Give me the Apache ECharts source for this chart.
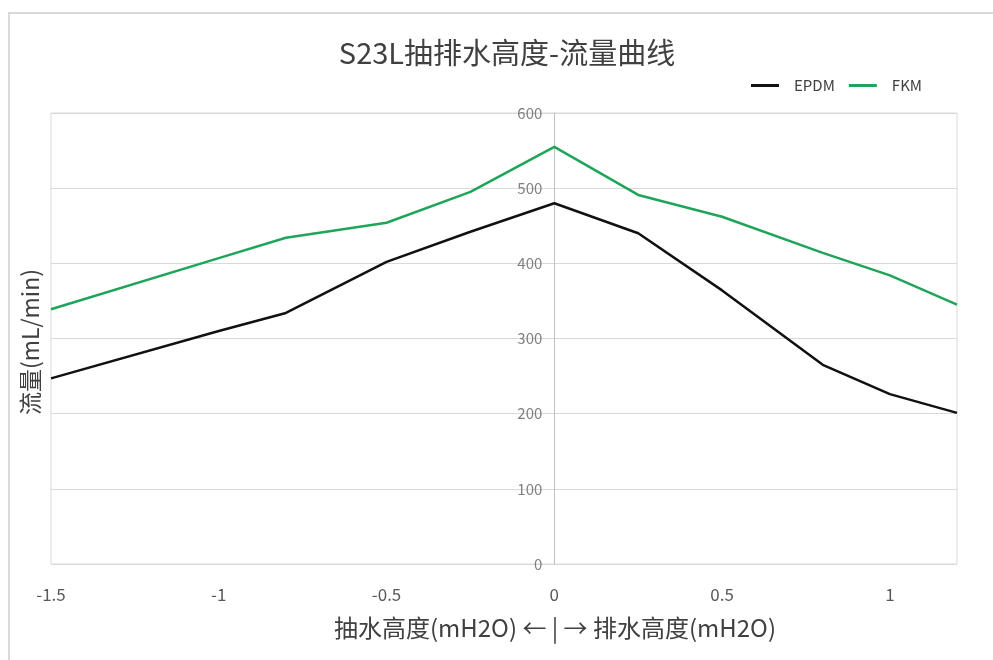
<!DOCTYPE html>
<html>
<head>
<meta charset="utf-8">
<script src="https://cdn.jsdelivr.net/npm/echarts@6/dist/echarts.min.js"></script>
<style>html,body{margin:0;padding:0;background:#fff}#c{width:993px;height:660px}</style>
</head>
<body>
<div id="c"></div>
<script>
var heights = [-1.5, -1, -0.8, -0.5, -0.25, 0, 0.25, 0.5, 0.8, 1, 1.2];
var epdm = [247, 310, 334, 402, 442, 480, 440, 364, 265, 226, 201];
var fkm = [339, 407, 434, 454, 495, 555, 491, 462, 414, 384, 345];
var xTicks = [-1.5, -1, -0.5, 0, 0.5, 1];
var titleText = 'S23L抽排水高度-流量曲线';
var xName = '抽水高度(mH2O) ← | → 排水高度(mH2O)';
var yName = '流量(mL/min)';

function pairs(xs, ys) { return xs.map(function (x, i) { return [x, ys[i]]; }); }

var FONT = 'Noto Sans CJK SC';
var GL = 51, GR = 36, XMIN = -1.5, XMAX = 1.2;
var plotW = 993 - GL - GR;
var zeroOff = plotW * (0 - XMIN) / (XMAX - XMIN);

var chart = echarts.init(document.getElementById('c'));
chart.setOption({
  backgroundColor: '#fff',
  animation: false,
  legend: {
    right: 66, top: 73,
    itemWidth: 28, itemHeight: 3, itemGap: 14,
    icon: 'rect',
    textStyle: { fontFamily: FONT, fontSize: 15, color: '#404040', padding: [0, 0, 0, 10] },
    data: ['EPDM', 'FKM']
  },
  graphic: [{
    type: 'rect', silent: true,
    shape: { x: 9, y: 13, width: 1100, height: 800 },
    style: { fill: 'none', stroke: '#d9d9d9', lineWidth: 2 }
  }, {
    type: 'text', silent: true, x: 507, y: 53,
    style: { text: titleText, font: '29px "' + FONT + '"', fill: '#404040', align: 'center', verticalAlign: 'middle' }
  }, {
    type: 'text', silent: true, x: 555, y: 628,
    style: { text: xName, font: '24px "' + FONT + '"', fill: '#404040', align: 'center', verticalAlign: 'middle' }
  }, {
    type: 'text', silent: true, rotation: Math.PI / 2,
    x: 30, y: 342,
    style: { text: yName, font: '23px "' + FONT + '"', fill: '#404040', align: 'center', verticalAlign: 'middle' }
  }],
  grid: { left: GL, right: GR, top: 113, bottom: 96, show: true, borderColor: '#d9d9d9', borderWidth: 1, outerBoundsMode: 'none', containLabel: false },
  xAxis: {
    type: 'value', min: XMIN, max: XMAX, interval: 0.5,
    axisLine: { show: false },
    axisTick: { show: false },
    splitLine: { show: false },
    axisLabel: {
      margin: 22, fontFamily: FONT, fontSize: 17, color: '#595959',
      customValues: xTicks,
      formatter: function (v) { return xTicks.indexOf(Math.round(v * 100) / 100) >= 0 ? String(v) : ''; }
    }
  },
  yAxis: {
    type: 'value', min: 0, max: 600, interval: 100,
    offset: -zeroOff,
    axisLine: { show: true, onZero: false, lineStyle: { color: '#bfbfbf', width: 1 } },
    axisTick: { show: false },
    splitLine: { show: true, lineStyle: { color: '#d9d9d9', width: 1 } },
    axisLabel: { margin: 12, fontFamily: FONT, fontSize: 15, color: '#7f7f7f' }
  },
  series: [
    { name: 'EPDM', type: 'line', data: pairs(heights, epdm), showSymbol: false, symbol: 'none',
      lineStyle: { color: '#111111', width: 2.5 }, itemStyle: { color: '#111111' } },
    { name: 'FKM', type: 'line', data: pairs(heights, fkm), showSymbol: false, symbol: 'none',
      lineStyle: { color: '#1fa55a', width: 2.5 }, itemStyle: { color: '#1fa55a' } }
  ]
});
</script>
</body>
</html>
